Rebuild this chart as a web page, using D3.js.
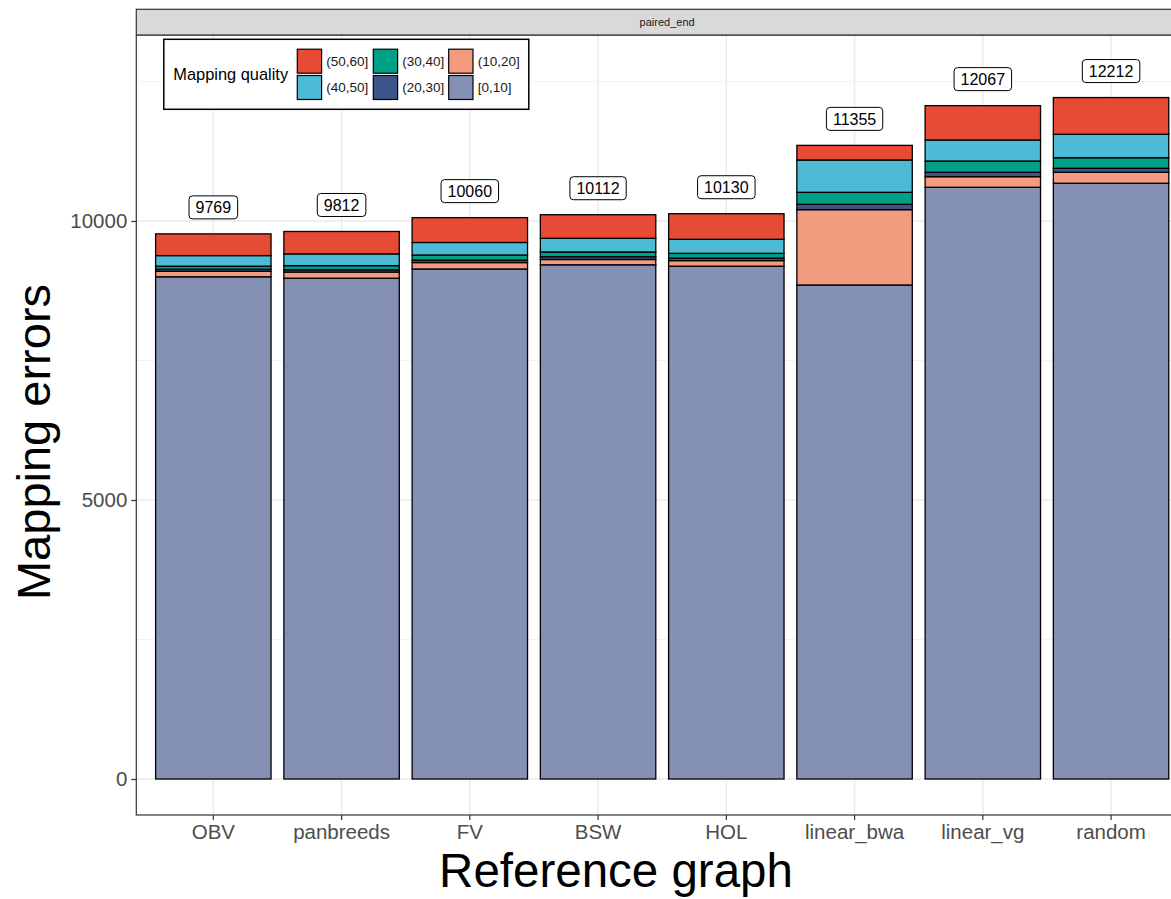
<!DOCTYPE html>
<html>
<head>
<meta charset="utf-8">
<script src="https://cdn.jsdelivr.net/npm/d3@7"></script>
<style>
  body { margin: 0; background: #fff; }
  svg { display: block; }
  text { font-family: "Liberation Sans", Arial, Helvetica, sans-serif; }
</style>
</head>
<body>
<svg id="chart" width="1171" height="899"></svg>
<script>
// Mapping errors per reference graph, split by mapping-quality bin
const categories = ["OBV", "panbreeds", "FV", "BSW", "HOL", "linear_bwa", "linear_vg", "random"];
const qualityBins = ["[0,10]", "(10,20]", "(20,30]", "(30,40]", "(40,50]", "(50,60]"];
const binColors = ["#8491B4", "#F39B7F", "#3C5488", "#00A087", "#4DBBD5", "#E64B35"];

const q0_10  = [9000, 8975, 9140, 9215, 9190, 8853, 10604, 10676];
const q10_20 = [100, 110, 115, 95, 100, 1350, 190, 197];
const q20_30 = [35, 40, 45, 50, 45, 96, 79, 71];
const q30_40 = [55, 75, 90, 85, 85, 215, 202, 190];
const q40_50 = [190, 210, 225, 245, 252, 579, 377, 420];
const q50_60 = [389, 402, 445, 422, 458, 262, 615, 658];

const yTicks = [0, 5000, 10000];
const yMinorTicks = [2500, 7500, 12500];
const facetLabel = "paired_end";

const binValues = [q0_10, q10_20, q20_30, q30_40, q40_50, q50_60];
const rows = categories.map((c, i) => {
  const r = { graph: c };
  qualityBins.forEach((b, k) => { r[b] = binValues[k][i]; });
  return r;
});
const series = d3.stack().keys(qualityBins)(rows);
const totals = rows.map(r => d3.sum(qualityBins, b => r[b]));

const svg = d3.select("#chart");
const panel = { left: 136.3, right: 1198, top: 35, bottom: 815 };

const x = d3.scaleBand()
  .domain(categories)
  .range([149.2, 1175.2])
  .paddingInner(0.1)
  .paddingOuter(0.05);

const y = d3.scaleLinear()
  .domain([-645, 13333])
  .range([panel.bottom, panel.top]);

const color = d3.scaleOrdinal().domain(qualityBins).range(binColors);

// panel background + grid
const g = svg.append("g");
g.append("rect")
  .attr("x", panel.left).attr("y", panel.top)
  .attr("width", panel.right - panel.left).attr("height", panel.bottom - panel.top)
  .attr("fill", "#fff");

g.selectAll("line.minor").data(yMinorTicks).join("line")
  .attr("x1", panel.left).attr("x2", panel.right)
  .attr("y1", d => y(d)).attr("y2", d => y(d))
  .attr("stroke", "#f0f0f0").attr("stroke-width", 0.8);

g.selectAll("line.majorY").data(yTicks).join("line")
  .attr("x1", panel.left).attr("x2", panel.right)
  .attr("y1", d => y(d)).attr("y2", d => y(d))
  .attr("stroke", "#ebebeb").attr("stroke-width", 1.5);

g.selectAll("line.majorX").data(categories).join("line")
  .attr("x1", d => x(d) + x.bandwidth() / 2).attr("x2", d => x(d) + x.bandwidth() / 2)
  .attr("y1", panel.top).attr("y2", panel.bottom)
  .attr("stroke", "#ebebeb").attr("stroke-width", 1.5);

// stacked bars
const layers = svg.append("g").selectAll("g").data(series).join("g")
  .attr("fill", d => color(d.key));
layers.selectAll("rect").data(d => d).join("rect")
  .attr("x", d => x(d.data.graph))
  .attr("width", x.bandwidth())
  .attr("y", d => y(d[1]))
  .attr("height", d => y(d[0]) - y(d[1]))
  .attr("stroke", "#000")
  .attr("stroke-width", 1.3);

// total labels
const labels = svg.append("g").selectAll("g").data(categories).join("g")
  .attr("transform", (d, i) => `translate(${x(d) + x.bandwidth() / 2},${y(totals[i] + 475)})`);
labels.each(function (d, i) {
  const lg = d3.select(this);
  const t = lg.append("text")
    .attr("text-anchor", "middle")
    .attr("dy", "0.36em")
    .attr("font-size", 16)
    .attr("fill", "#000")
    .text(totals[i]);
  const w = t.node().getComputedTextLength() + 13;
  lg.insert("rect", "text")
    .attr("x", -w / 2).attr("y", -11.5)
    .attr("width", w).attr("height", 23)
    .attr("rx", 3.5).attr("ry", 3.5)
    .attr("fill", "#fff").attr("stroke", "#000").attr("stroke-width", 1);
});

// panel border
svg.append("rect")
  .attr("x", panel.left).attr("y", panel.top)
  .attr("width", panel.right - panel.left).attr("height", panel.bottom - panel.top)
  .attr("fill", "none").attr("stroke", "#333").attr("stroke-width", 1.2);

// facet strip
svg.append("rect")
  .attr("x", panel.left).attr("y", 9.3)
  .attr("width", panel.right - panel.left).attr("height", panel.top - 9.3)
  .attr("fill", "#d9d9d9").attr("stroke", "#333").attr("stroke-width", 1.2);
svg.append("text")
  .attr("x", (panel.left + panel.right) / 2).attr("y", 22.5)
  .attr("dy", "0.36em").attr("text-anchor", "middle")
  .attr("font-size", 11).attr("fill", "#1a1a1a")
  .text(facetLabel);

// y axis
const yAxis = svg.append("g")
  .attr("transform", `translate(${panel.left},0)`)
  .call(d3.axisLeft(y).tickValues(yTicks).tickSize(5).tickPadding(4).tickFormat(d3.format("d")));
yAxis.select(".domain").remove();
yAxis.selectAll("line").attr("stroke", "#333").attr("stroke-width", 1.2);
yAxis.selectAll("text").attr("font-size", 20.5).attr("fill", "#4d4d4d").attr("font-family", null);

// x axis
const xAxis = svg.append("g")
  .attr("transform", `translate(0,${panel.bottom})`)
  .call(d3.axisBottom(x).tickSize(5).tickPadding(4));
xAxis.select(".domain").remove();
xAxis.selectAll("line").attr("stroke", "#333").attr("stroke-width", 1.2);
xAxis.selectAll("text").attr("font-size", 20.5).attr("fill", "#4d4d4d").attr("font-family", null);

// axis titles
svg.append("text")
  .attr("transform", "translate(50,442) rotate(-90)")
  .attr("text-anchor", "middle")
  .attr("font-size", 47).attr("fill", "#000")
  .text("Mapping errors");
svg.append("text")
  .attr("x", 616).attr("y", 887)
  .attr("text-anchor", "middle")
  .attr("font-size", 47.5).attr("fill", "#000")
  .text("Reference graph");

// legend
const legend = svg.append("g");
legend.append("rect")
  .attr("x", 163.8).attr("y", 39.3).attr("width", 365).attr("height", 70)
  .attr("fill", "#fff").attr("stroke", "#000").attr("stroke-width", 1.5);
legend.append("text")
  .attr("x", 173.3).attr("y", 74.3).attr("dy", "0.36em")
  .attr("font-size", 16.4).attr("fill", "#000")
  .text("Mapping quality");
const legendOrder = qualityBins.slice().reverse();
const colX = [297.3, 373.3, 448.7];
const rowY = [49.2, 75.5];
legendOrder.forEach((b, k) => {
  const cx = colX[Math.floor(k / 2)];
  const cy = rowY[k % 2];
  legend.append("rect")
    .attr("x", cx).attr("y", cy).attr("width", 24.3).attr("height", 24)
    .attr("fill", color(b)).attr("stroke", "#000").attr("stroke-width", 1.2);
  legend.append("text")
    .attr("x", cx + 29).attr("y", cy + 12).attr("dy", "0.36em")
    .attr("font-size", 13.5).attr("fill", "#1a1a1a")
    .text(b);
});
</script>
</body>
</html>
